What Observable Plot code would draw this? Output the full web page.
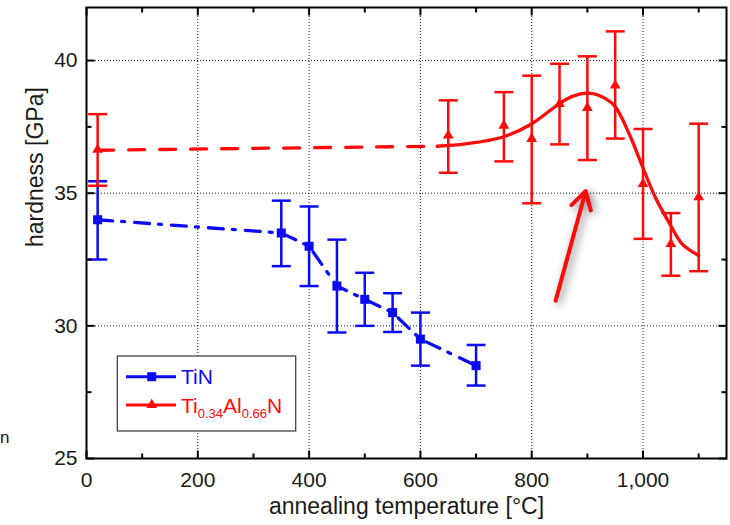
<!DOCTYPE html>
<html><head><meta charset="utf-8">
<script src="https://cdn.jsdelivr.net/npm/d3@7"></script>
<script src="https://cdn.jsdelivr.net/npm/@observablehq/plot@0.6"></script>
<style>
body{margin:0;background:#fff;}
#chart{width:730px;height:525px;overflow:hidden;}
</style></head><body><div id="chart"></div>
<script>
// ---- data ----
const tinTemp = [20, 350, 400, 450, 500, 550, 600, 700];
const tinHardness = [34.0, 33.5, 33.0, 31.5, 31.0, 30.5, 29.5, 28.5];
const tinLow = [32.5, 32.25, 31.5, 29.75, 30.0, 29.77, 28.5, 27.75];
const tinHigh = [35.45, 34.72, 34.5, 33.25, 32.0, 31.23, 30.5, 29.28];

const tialnTemp = [20, 650, 750, 800, 850, 900, 950, 1000, 1050, 1100];
const tialnHardness = [36.64, 37.18, 37.55, 37.05, 38.37, 38.22, 39.06, 35.35, 33.09, 34.85];
const tialnLow = [35.28, 35.77, 36.2, 34.62, 36.84, 36.25, 37.06, 33.28, 31.89, 32.06];
const tialnHigh = [37.98, 38.5, 38.81, 39.43, 39.88, 40.16, 41.1, 37.42, 34.25, 37.62];

const fitDashTemp = [20, 630];
const fitDashHardness = [36.62, 36.77];
const fitTemp = [630, 681, 747, 798, 848, 873, 900, 920, 948, 975, 997, 1022, 1048, 1070, 1100];
const fitHardness = [36.77, 36.86, 37.11, 37.59, 38.35, 38.65, 38.77, 38.69, 38.31, 37.24, 36.11, 34.85, 33.85, 33.09, 32.65];

const arrowTemp = [843, 897];
const arrowHardness = [30.95, 35.08];

const xTicksMajor = [0, 200, 400, 600, 800, 1000];
const xTicksMinor = [100, 300, 500, 700, 900, 1100];
const yTicksMajor = [25, 30, 35, 40];
const yTicksMinor = [27.5, 32.5, 37.5];
const xGrid = [200, 400, 600, 800, 1000];
const yGrid = [30, 35, 40];

const seriesNames = ["TiN", "Ti0.34Al0.66N"];
const xLabel = "annealing temperature [°C]";
const yLabel = "hardness [GPa]";

// ---- build tables ----
const BLUE = "#0a0af5", RED = "#ff0a0a";
const tin = tinTemp.map((t, i) => ({t, h: tinHardness[i], lo: tinLow[i], hi: tinHigh[i]}));
const tialn = tialnTemp.map((t, i) => ({t, h: tialnHardness[i], lo: tialnLow[i], hi: tialnHigh[i]}));
const fitDash = fitDashTemp.map((t, i) => ({t, h: fitDashHardness[i]}));
const fit = fitTemp.map((t, i) => ({t, h: fitHardness[i]}));
const arrow = [{x1: arrowTemp[0], y1: arrowHardness[0], x2: arrowTemp[1], y2: arrowHardness[1]}];

// custom symbols (pixel sized)
const hCap = {draw(c) { c.moveTo(-9.5, 0); c.lineTo(9.5, 0); }};
const vUp = len => ({draw(c) { c.moveTo(0, 0); c.lineTo(0, -len); }});
const vDown = len => ({draw(c) { c.moveTo(0, 0); c.lineTo(0, len); }});
const hRight = len => ({draw(c) { c.moveTo(0, 0); c.lineTo(len, 0); }});
const hLeft = len => ({draw(c) { c.moveTo(0, 0); c.lineTo(-len, 0); }});

const errMarks = (data, color) => [
  Plot.ruleX(data, {x: "t", y1: "lo", y2: "hi", stroke: color, strokeWidth: 2.5}),
  Plot.dot(data, {x: "t", y: "lo", symbol: hCap, stroke: color, strokeWidth: 2.5, fill: "none"}),
  Plot.dot(data, {x: "t", y: "hi", symbol: hCap, stroke: color, strokeWidth: 2.5, fill: "none"})
];
const tickMarks = (vals, anchor, sym, w) => Plot.dot(vals, {
  ...(anchor === "bottom" || anchor === "top" ? {x: d => d} : {y: d => d}),
  frameAnchor: anchor, symbol: sym, stroke: "#000", strokeWidth: w, fill: "none"
});

const plot = Plot.plot({
  width: 730, height: 525,
  marginLeft: 86, marginRight: 4, marginTop: 7, marginBottom: 67,
  style: {fontFamily: "'Liberation Sans', Arial, sans-serif", fontSize: "21px", color: "#1a1a1a", background: "#fff"},
  x: {domain: [0, 1150]},
  y: {domain: [25, 42]},
  marks: [
    Plot.gridX(xGrid, {stroke: "#000", strokeOpacity: 0.9, strokeDasharray: "1,2", strokeWidth: 1}),
    Plot.gridY(yGrid, {stroke: "#000", strokeOpacity: 0.9, strokeDasharray: "1,2", strokeWidth: 1}),
    ...errMarks(tin, BLUE),
    ...errMarks(tialn, RED),
    Plot.line(tin, {x: "t", y: "h", stroke: BLUE, strokeWidth: 3.3, strokeDasharray: "15,9,3,10"}),
    Plot.line(fitDash, {x: "t", y: "h", stroke: RED, strokeWidth: 3.3, strokeDasharray: "16,15"}),
    Plot.line(fit, {x: "t", y: "h", stroke: RED, strokeWidth: 3.3, curve: "catmull-rom"}),
    Plot.dot(tin, {x: "t", y: "h", symbol: "square", r: 5.1, fill: BLUE, stroke: "none"}),
    Plot.dot(tialn, {x: "t", y: "h", symbol: "triangle", r: 4, fill: RED, stroke: "none"}),
    Plot.arrow(arrow, {x1: "x1", y1: "y1", x2: "x2", y2: "y2", stroke: RED, strokeWidth: 4, headLength: 7.5, headAngle: 60}),
    Plot.frame({stroke: "#000", strokeWidth: 2}),
    tickMarks(xTicksMajor, "bottom", vUp(8), 2),
    tickMarks(xTicksMinor, "bottom", vUp(5), 2),
    tickMarks(xTicksMajor, "top", vDown(8), 2),
    tickMarks(xTicksMinor, "top", vDown(5), 2),
    tickMarks(yTicksMajor, "left", hRight(8), 2),
    tickMarks(yTicksMinor, "left", hRight(5), 2),
    tickMarks(yTicksMajor, "right", hLeft(8), 2),
    tickMarks(yTicksMinor, "right", hLeft(5), 2),
    Plot.axisX(xTicksMajor, {tickSize: 0, tickPadding: 14, tickFormat: d3.format(","), label: null, fill: "#1a1a1a"}),
    Plot.axisY(yTicksMajor, {tickSize: 0, tickPadding: 9, label: null, fill: "#1a1a1a"}),
    Plot.text([xLabel], {text: d => d, frameAnchor: "bottom", dy: 55, fontSize: 23, fill: "#1a1a1a"}),
    Plot.text([yLabel], {text: d => d, frameAnchor: "left", rotate: -90, dx: -51, dy: 14, fontSize: 23, fill: "#1a1a1a"})
  ]
});

const svg = d3.select(plot);
// arrow shadow
svg.selectAll('[aria-label="arrow"]').style("filter", "drop-shadow(3px 2px 4px rgba(0,0,0,0.5))");

// legend
const lg = svg.append("g").attr("font-size", 21).attr("text-anchor", "start");
lg.append("rect").attr("x", 117.3).attr("y", 356).attr("width", 178.4).attr("height", 75)
  .attr("fill", "#fff").attr("stroke", "#444").attr("stroke-width", 1.3);
const items = [
  {name: seriesNames[0], color: BLUE, sym: d3.symbolSquare, size: Math.PI * 5.1 * 5.1, y: 376.7},
  {name: seriesNames[1], color: RED, sym: d3.symbolTriangle, size: Math.PI * 4 * 4, y: 405}
];
items.forEach((it, i) => {
  lg.append("line").attr("x1", 126).attr("x2", 176).attr("y1", it.y).attr("y2", it.y)
    .attr("stroke", it.color).attr("stroke-width", 3);
  lg.append("path").attr("d", d3.symbol(it.sym, it.size)()).attr("transform", `translate(151.7,${it.y})`)
    .attr("fill", it.color);
  const t = lg.append("text").attr("x", 181).attr("y", it.y + 7.5).attr("fill", it.color);
  if (i === 0) {
    t.text(it.name);
  } else {
    const m = it.name.match(/^(Ti)([\d.]+)(Al)([\d.]+)(N)$/);
    t.append("tspan").text(m[1]);
    t.append("tspan").attr("font-size", 13).attr("dy", 5).text(m[2]);
    t.append("tspan").attr("dy", -5).text(m[3]);
    t.append("tspan").attr("font-size", 13).attr("dy", 5).text(m[4]);
    t.append("tspan").attr("dy", -5).text(m[5]);
  }
});
// stray cropped text at left edge of the original figure
svg.append("text").attr("x", 0).attr("y", 443).attr("font-size", 17).attr("text-anchor", "start")
  .attr("fill", "#1a1a1a").text("n");

document.getElementById("chart").appendChild(plot);
</script>
</body></html>
